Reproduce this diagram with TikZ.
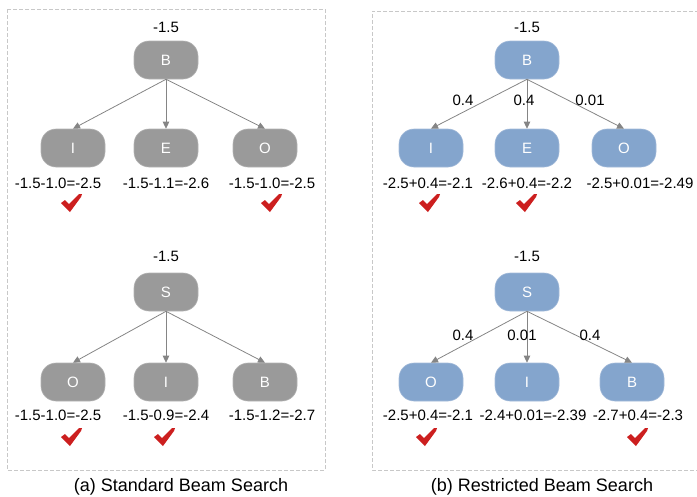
\documentclass[tikz,border=0pt]{standalone}
\usepackage{fontspec}
\setmainfont{Liberation Sans}
\usetikzlibrary{arrows.meta}
\definecolor{nodegray}{HTML}{9A9A9A}
\definecolor{nodeblue}{HTML}{84A5CD}
\definecolor{edgegray}{HTML}{858585}
\definecolor{framegray}{HTML}{C8C8C8}
\definecolor{tickred}{HTML}{CC1F1F}
\begin{document}
\begin{tikzpicture}[x=1pt,y=-1pt,
  tok/.style={rounded corners=15pt, minimum width=64pt, minimum height=38pt,
    text=white, font=\fontsize{15}{17}\selectfont, inner sep=0pt, line width=0.6pt},
  graytok/.style={tok, fill=nodegray, draw=nodegray!75!white},
  bluetok/.style={tok, fill=nodeblue, draw=nodeblue!75!white},
  score/.style={font=\fontsize{15}{17}\selectfont, inner sep=0pt},
  link/.style={draw=edgegray, line width=0.8pt, -{Triangle[length=7pt,width=6.5pt]}},
  frame/.style={draw=framegray, line width=0.8pt, dash pattern=on 4pt off 2pt},
  caption/.style={font=\fontsize{18}{20}\selectfont, inner sep=0pt},
  okmark/.pic={\fill[tickred] (-11,0) -- (-7,-3) -- (-3,1) -- (7,-9) -- (10,-9) -- (9,-6) -- (-2,9) -- cycle;}
]
\useasboundingbox (0,0) rectangle (697,496);

% panel frames
\draw[frame] (7,9) rectangle (325,470);
\draw[frame] (705,11) -- (372,11) -- (372,470) -- (705,470);

% ---------- (a) standard beam search ----------
\node[score] (a1s) at (166,27) {-1.5};
\node[graytok] (a1r) at (166,60) {B};
\node[graytok] (a1i) at (73,148) {I};
\node[graytok] (a1e) at (166,148) {E};
\node[graytok] (a1o) at (265,148) {O};
\draw[link] (a1r.south) -- (a1i.north);
\draw[link] (a1r.south) -- (a1e.north);
\draw[link] (a1r.south) -- (a1o.north);
\node[score] (a1si) at (58,183) {-1.5-1.0=-2.5};
\node[score] (a1se) at (166,183) {-1.5-1.1=-2.6};
\node[score] (a1so) at (272,183) {-1.5-1.0=-2.5};
\pic at (72,203) {okmark};
\pic at (272,203) {okmark};

\node[score] (a2s) at (166,256) {-1.5};
\node[graytok] (a2r) at (166,292) {S};
\node[graytok] (a2o) at (73,382) {O};
\node[graytok] (a2i) at (166,382) {I};
\node[graytok] (a2b) at (265,382) {B};
\draw[link] (a2r.south) -- (a2o.north);
\draw[link] (a2r.south) -- (a2i.north);
\draw[link] (a2r.south) -- (a2b.north);
\node[score] (a2so) at (58,415) {-1.5-1.0=-2.5};
\node[score] (a2si) at (166,415) {-1.5-0.9=-2.4};
\node[score] (a2sb) at (272,415) {-1.5-1.2=-2.7};
\pic at (72,437) {okmark};
\pic at (165,437) {okmark};

\node[caption] (capa) at (181,487) {(a) Standard Beam Search};

% ---------- (b) restricted beam search ----------
\node[score] (b1s) at (527,27) {-1.5};
\node[bluetok] (b1r) at (527,60) {B};
\node[bluetok] (b1i) at (431,148) {I};
\node[bluetok] (b1e) at (527,148) {E};
\node[bluetok] (b1o) at (624,148) {O};
\draw[link] (b1r.south) -- (b1i.north);
\draw[link] (b1r.south) -- (b1e.north);
\draw[link] (b1r.south) -- (b1o.north);
\node[score] (b1wi) at (463,100) {0.4};
\node[score] (b1we) at (524,100) {0.4};
\node[score] (b1wo) at (590,100) {0.01};
\node[score] (b1si) at (428,183) {-2.5+0.4=-2.1};
\node[score] (b1se) at (527,183) {-2.6+0.4=-2.2};
\node[score] (b1so) at (640,183) {-2.5+0.01=-2.49};
\pic at (430,203) {okmark};
\pic at (527,203) {okmark};

\node[score] (b2s) at (527,256) {-1.5};
\node[bluetok] (b2r) at (527,292) {S};
\node[bluetok] (b2o) at (431,382) {O};
\node[bluetok] (b2i) at (527,382) {I};
\node[bluetok] (b2b) at (632,382) {B};
\draw[link] (b2r.south) -- (b2o.north);
\draw[link] (b2r.south) -- (b2i.north);
\draw[link] (b2r.south) -- (b2b.north);
\node[score] (b2wo) at (463,335) {0.4};
\node[score] (b2wi) at (522,335) {0.01};
\node[score] (b2wb) at (590,335) {0.4};
\node[score] (b2so) at (428,415) {-2.5+0.4=-2.1};
\node[score] (b2si) at (533,415) {-2.4+0.01=-2.39};
\node[score] (b2sb) at (638,415) {-2.7+0.4=-2.3};
\pic at (427,437) {okmark};
\pic at (638,437) {okmark};

\node[caption] (capb) at (542,487) {(b) Restricted Beam Search};
\end{tikzpicture}
\end{document}
